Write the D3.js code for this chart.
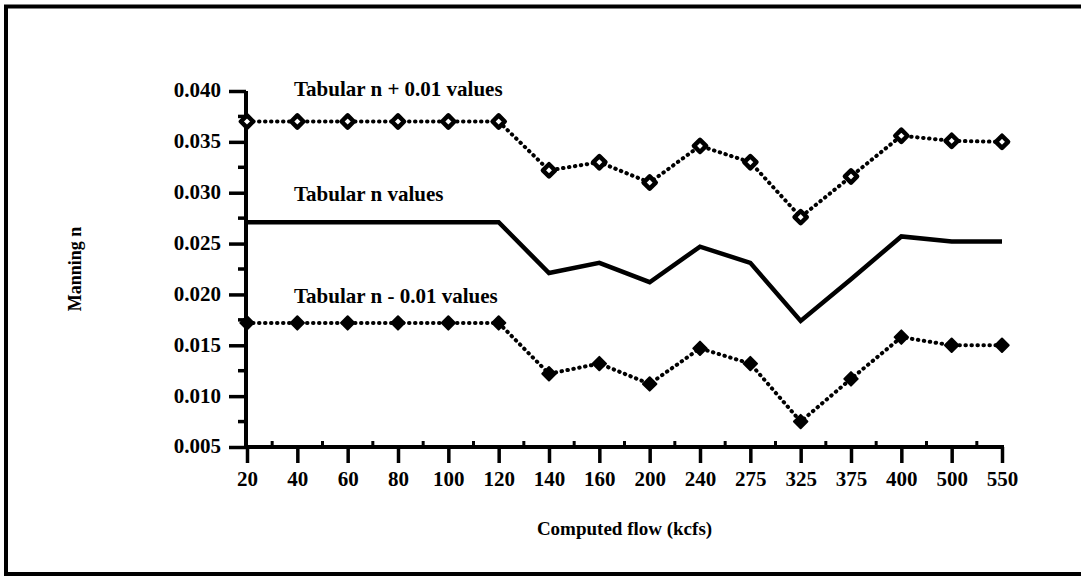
<!DOCTYPE html>
<html>
<head>
<meta charset="utf-8">
<script src="https://cdn.jsdelivr.net/npm/d3@7"></script>
<style>
  body { margin: 0; background: #fff; }
  svg { display: block; }
  text { font-family: "Liberation Serif", "Times New Roman", serif; font-weight: bold; fill: #000; }
</style>
</head>
<body>
<div id="chart"></div>
<script>
var w = 1081, h = 577;

// flows (kcfs)
var flows = ["20", "40", "60", "80", "100", "120", "140", "160", "200", "240", "275", "325", "375", "400", "500", "550"];

var nPlus  = [0.0370, 0.0370, 0.0370, 0.0370, 0.0370, 0.0370, 0.0322, 0.0330, 0.0310, 0.0346, 0.0330, 0.0276, 0.0316, 0.0356, 0.0351, 0.0350];
var nTab   = [0.0271, 0.0271, 0.0271, 0.0271, 0.0271, 0.0271, 0.0221, 0.0231, 0.0212, 0.0247, 0.0231, 0.0174, 0.0215, 0.0257, 0.0252, 0.0252];
var nMinus = [0.0172, 0.0172, 0.0172, 0.0172, 0.0172, 0.0172, 0.0122, 0.0132, 0.0112, 0.0147, 0.0132, 0.0075, 0.0117, 0.0158, 0.0150, 0.0150];

var yTicks = [0.005, 0.010, 0.015, 0.020, 0.025, 0.030, 0.035, 0.040];
var yMinor = [0.0075, 0.0125, 0.0175, 0.0225, 0.0275, 0.0325, 0.0375];

var labels = [
  {text: "Tabular n + 0.01 values", v: 0.0395},
  {text: "Tabular n values", v: 0.0292},
  {text: "Tabular n - 0.01 values", v: 0.0192}
];

var svg = d3.select("#chart").append("svg")
    .attr("width", w)
    .attr("height", h);

// page frame (open on the right, runs off the scan)
svg.append("rect")
    .attr("x", 6).attr("y", 6.5)
    .attr("width", 1100).attr("height", 567.5)
    .attr("fill", "none")
    .attr("stroke", "#000")
    .attr("stroke-width", 4);

var x = d3.scalePoint().domain(flows).range([247, 1002]);
var y = d3.scaleLinear().domain([0.005, 0.040]).range([447, 91]);

// y axis
var yAxis = svg.append("g")
    .attr("transform", "translate(246,0)")
    .call(d3.axisLeft(y).tickValues(yTicks).tickFormat(d3.format(".3f")).tickSize(17).tickPadding(8));
yAxis.select(".domain").attr("d", "M0," + y(0.040) + "V" + (y(0.005) + 1.5)).attr("stroke-width", 4);
yAxis.selectAll(".tick line").attr("stroke-width", 3.5);
yAxis.selectAll("text").attr("font-size", 21).attr("font-family", "Liberation Serif").attr("dy", "0.28em");

svg.append("g")
  .selectAll("line")
  .data(yMinor)
  .join("line")
    .attr("x1", 238).attr("x2", 246)
    .attr("y1", function(d) { return y(d); })
    .attr("y2", function(d) { return y(d); })
    .attr("stroke", "#000")
    .attr("stroke-width", 3.5);

// x axis
var xAxis = svg.append("g")
    .attr("transform", "translate(0,447)")
    .call(d3.axisBottom(x).tickSize(16).tickPadding(8));
xAxis.select(".domain").attr("d", "M244,0H" + (x("550") + 2)).attr("stroke-width", 4);
xAxis.selectAll(".tick line").attr("stroke-width", 3.5);
xAxis.selectAll("text").attr("font-size", 21).attr("font-family", "Liberation Serif").attr("dy", "0.72em");

// little minor marks halfway between flows
var mids = flows.slice(1).map(function(d, i) { return (x(d) + x(flows[i])) / 2; });
svg.append("g")
  .selectAll("line")
  .data(mids)
  .join("line")
    .attr("x1", function(d) { return d; })
    .attr("x2", function(d) { return d; })
    .attr("y1", 441).attr("y2", 447)
    .attr("stroke", "#000")
    .attr("stroke-width", 3);

var line = d3.line()
    .x(function(d, i) { return x(flows[i]); })
    .y(function(d) { return y(d); });

// tabular n, solid
svg.append("path")
    .datum(nTab)
    .attr("d", line)
    .attr("fill", "none")
    .attr("stroke", "#000")
    .attr("stroke-width", 4.5)
    .attr("stroke-linejoin", "miter");

// +/- 0.01, dotted with diamonds
[nPlus, nMinus].forEach(function(s, k) {
  svg.append("path")
      .datum(s)
      .attr("d", line)
      .attr("fill", "none")
      .attr("stroke", "#000")
      .attr("stroke-width", 4)
      .attr("stroke-linecap", "round")
      .attr("stroke-dasharray", "0.5,5.5");

  svg.append("g")
    .selectAll("path")
    .data(s)
    .join("path")
      .attr("transform", function(d, i) { return "translate(" + x(flows[i]) + "," + y(d) + ")"; })
      .attr("d", d3.symbol(d3.symbolDiamond2, k ? 115 : 95))
      .attr("fill", k ? "#000" : "#fff")
      .attr("stroke", "#000")
      .attr("stroke-width", k ? 2 : 4.5)
      .attr("stroke-linejoin", "round");
});

svg.append("g")
  .selectAll("text")
  .data(labels)
  .join("text")
    .attr("x", 294)
    .attr("y", function(d) { return y(d.v); })
    .attr("font-size", 21)
    .text(function(d) { return d.text; });

svg.append("text")
    .attr("x", (x("20") + x("550")) / 2)
    .attr("y", 535)
    .attr("text-anchor", "middle")
    .attr("font-size", 19)
    .text("Computed flow (kcfs)");

svg.append("text")
    .attr("transform", "translate(81," + ((y(0.005) + y(0.040)) / 2) + ") rotate(-90)")
    .attr("text-anchor", "middle")
    .attr("font-size", 18)
    .text("Manning n");
</script>
</body>
</html>
